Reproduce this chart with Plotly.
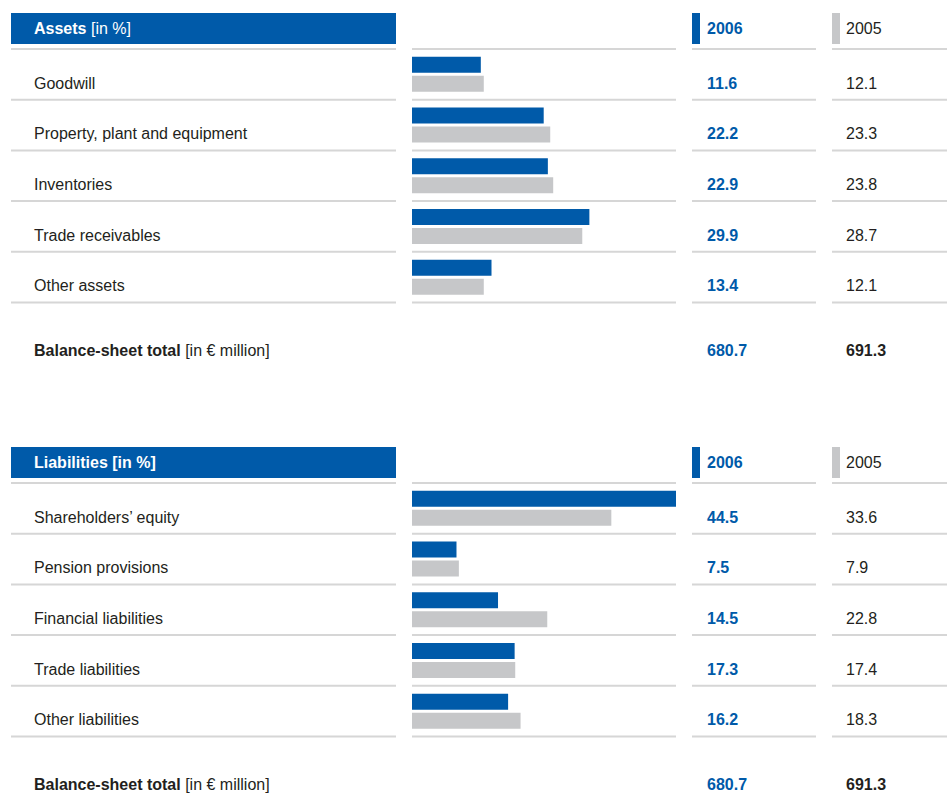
import plotly.graph_objects as go

# ---------------- data ----------------
asset_labels = ["Goodwill", "Property, plant and equipment", "Inventories",
                "Trade receivables", "Other assets"]
assets_2006 = [11.6, 22.2, 22.9, 29.9, 13.4]
assets_2005 = [12.1, 23.3, 23.8, 28.7, 12.1]
assets_total = ["680.7", "691.3"]

liab_labels = ["Shareholders’ equity", "Pension provisions", "Financial liabilities",
               "Trade liabilities", "Other liabilities"]
liab_2006 = [44.5, 7.5, 14.5, 17.3, 16.2]
liab_2005 = [33.6, 7.9, 22.8, 17.4, 18.3]
liab_total = ["680.7", "691.3"]

years = ["2006", "2005"]
total_label = "<b>Balance-sheet total</b> [in € million]"
section_titles = ["<b>Assets</b> [in %]", "<b>Liabilities [in %]</b>"]

# ---------------- style / layout ----------------
W, H = 947, 793
BLUE = "#005aa9"
GREY = "#c6c7c9"
LINE = "#d6d6d6"
DARK = "#231f20"
FONT = "Liberation Sans, Arial, sans-serif"
FS = 16

SECTION_TOPS = [13, 447]
HEADER_H = 31
FIRST_LINE = 36   # offset of first separator from header top
ROW_H = 50.7
BAR_W = 16
BAR_OFF = 9.5
TEXT_OFF = 34     # text middle offset from row top line
TOTAL_OFF = 48

COLS = {  # pixel ranges of the four columns
    "label": (11, 396),
    "bar": (412, 676),
    "y2006": (692, 816),
    "y2005": (832, 947),
}
TXT_X = {"label": 32, "y2006": 705, "y2005": 844}


def px(x):
    return x / W


fig = go.Figure()
shapes = []
annotations = []

sections = [
    (asset_labels, assets_2006, assets_2005, assets_total),
    (liab_labels, liab_2006, liab_2005, liab_total),
]

for si, (labels, v06, v05, totals) in enumerate(sections):
    top = SECTION_TOPS[si]
    first = top + FIRST_LINE
    n = len(labels)
    line_ys = [first + i * ROW_H for i in range(n + 1)]
    centers = [first + (i + 0.5) * ROW_H for i in range(n)]

    # bars
    fig.add_trace(go.Bar(orientation="h", x=v06, y=[c - BAR_OFF for c in centers],
                         width=BAR_W, marker=dict(color=BLUE, line=dict(width=0)),
                         name=years[0], showlegend=False, hoverinfo="x"))
    fig.add_trace(go.Bar(orientation="h", x=v05, y=[c + BAR_OFF for c in centers],
                         width=BAR_W, marker=dict(color=GREY, line=dict(width=0)),
                         name=years[1], showlegend=False, hoverinfo="x"))

    # header bar
    shapes.append(dict(type="rect", xref="paper", yref="y",
                       x0=px(COLS["label"][0]), x1=px(COLS["label"][1]),
                       y0=top, y1=top + HEADER_H, fillcolor=BLUE, line=dict(width=0),
                       layer="below"))
    annotations.append(dict(text=section_titles[si], xref="paper", yref="y",
                            x=px(TXT_X["label"]), y=top + HEADER_H / 2,
                            xanchor="left", yanchor="middle", showarrow=False,
                            font=dict(family=FONT, size=FS, color="white")))
    # year markers
    for key, col, yr, bold in [("y2006", BLUE, years[0], True), ("y2005", GREY, years[1], False)]:
        x0 = COLS[key][0]
        shapes.append(dict(type="rect", xref="paper", yref="y",
                           x0=px(x0), x1=px(x0 + 8), y0=top, y1=top + HEADER_H,
                           fillcolor=col, line=dict(width=0)))
        annotations.append(dict(text=f"<b>{yr}</b>" if bold else yr, xref="paper", yref="y",
                                x=px(TXT_X[key]), y=top + HEADER_H / 2,
                                xanchor="left", yanchor="middle", showarrow=False,
                                font=dict(family=FONT, size=FS,
                                          color=BLUE if bold else DARK)))

    # separator lines
    for ly in line_ys:
        for key in ["label", "bar", "y2006", "y2005"]:
            shapes.append(dict(type="line", xref="paper", yref="y",
                               x0=px(COLS[key][0]), x1=px(COLS[key][1]),
                               y0=ly, y1=ly, line=dict(color=LINE, width=2),
                               layer="below"))

    # row texts
    for i in range(n):
        ty = line_ys[i] + TEXT_OFF
        annotations.append(dict(text=labels[i], xref="paper", yref="y",
                                x=px(TXT_X["label"]), y=ty, xanchor="left",
                                yanchor="middle", showarrow=False,
                                font=dict(family=FONT, size=FS, color=DARK)))
        annotations.append(dict(text=f"<b>{v06[i]:.1f}</b>", xref="paper", yref="y",
                                x=px(TXT_X["y2006"]), y=ty, xanchor="left",
                                yanchor="middle", showarrow=False,
                                font=dict(family=FONT, size=FS, color=BLUE)))
        annotations.append(dict(text=f"{v05[i]:.1f}", xref="paper", yref="y",
                                x=px(TXT_X["y2005"]), y=ty, xanchor="left",
                                yanchor="middle", showarrow=False,
                                font=dict(family=FONT, size=FS, color=DARK)))

    # totals
    ty = line_ys[-1] + TOTAL_OFF
    annotations.append(dict(text=total_label, xref="paper", yref="y",
                            x=px(TXT_X["label"]), y=ty, xanchor="left",
                            yanchor="middle", showarrow=False,
                            font=dict(family=FONT, size=FS, color=DARK)))
    annotations.append(dict(text=f"<b>{totals[0]}</b>", xref="paper", yref="y",
                            x=px(TXT_X["y2006"]), y=ty, xanchor="left",
                            yanchor="middle", showarrow=False,
                            font=dict(family=FONT, size=FS, color=BLUE)))
    annotations.append(dict(text=f"<b>{totals[1]}</b>", xref="paper", yref="y",
                            x=px(TXT_X["y2005"]), y=ty, xanchor="left",
                            yanchor="middle", showarrow=False,
                            font=dict(family=FONT, size=FS, color=DARK)))

max_val = max(assets_2006 + assets_2005 + liab_2006 + liab_2005)

fig.update_layout(
    width=W, height=H,
    margin=dict(l=0, r=0, t=0, b=0),
    paper_bgcolor="white", plot_bgcolor="rgba(0,0,0,0)",
    barmode="overlay",
    showlegend=False,
    xaxis=dict(domain=[px(COLS["bar"][0]), px(COLS["bar"][1])],
               range=[0, max_val], visible=False, fixedrange=True),
    yaxis=dict(domain=[0, 1], range=[H, 0], visible=False, fixedrange=True),
    shapes=shapes,
    annotations=annotations,
    font=dict(family=FONT, size=FS, color=DARK),
)

fig.write_html("out.html",
               config={"displayModeBar": False},
               post_script="document.body.style.margin='0';document.body.style.overflow='hidden';")
